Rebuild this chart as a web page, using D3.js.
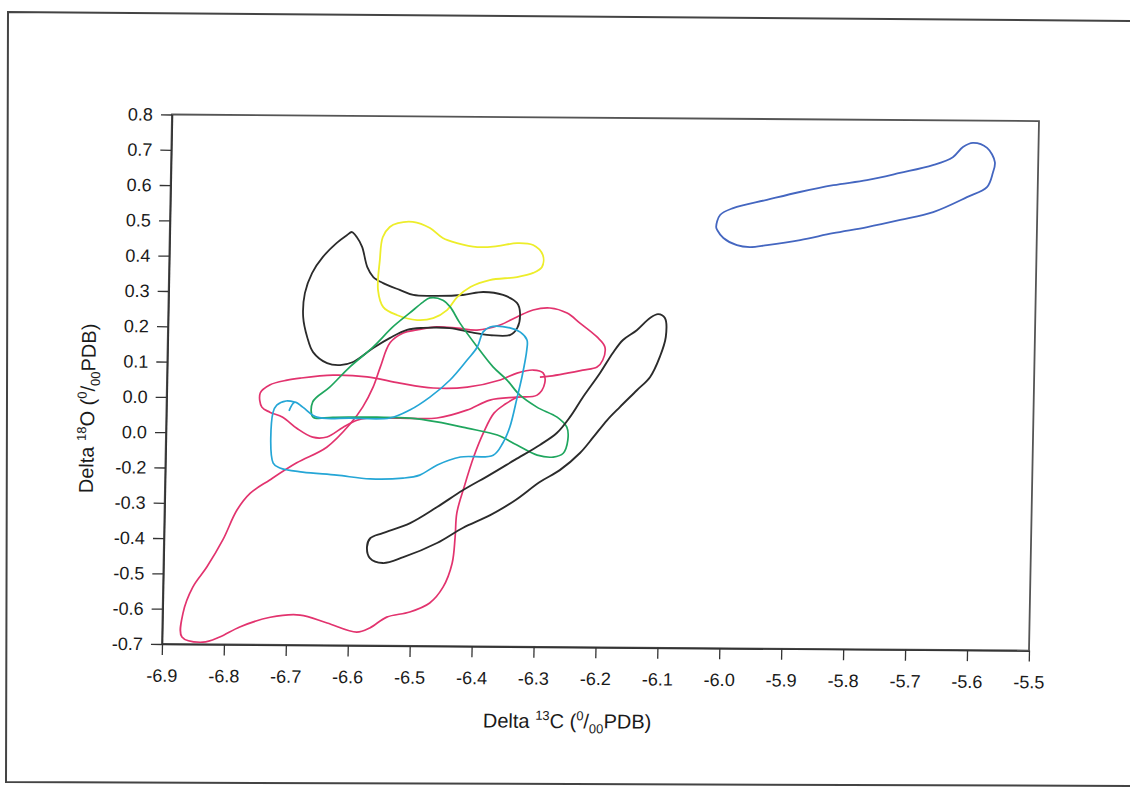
<!DOCTYPE html>
<html><head><meta charset="utf-8">
<script src="https://cdn.jsdelivr.net/npm/d3@7"></script>
<style>
html,body{margin:0;padding:0;background:#fff;}
svg{display:block;}
text{font-family:"Liberation Sans",Arial,Helvetica,sans-serif;fill:#1a1a1a;}
</style>
</head><body>
<svg id="c" width="1130" height="787"></svg>
<script>
// ---- axes / ticks ----
const xTicks = [-6.9,-6.8,-6.7,-6.6,-6.5,-6.4,-6.3,-6.2,-6.1,-6.0,-5.9,-5.8,-5.7,-5.6,-5.5];
const xTickLabels = ["-6.9","-6.8","-6.7","-6.6","-6.5","-6.4","-6.3","-6.2","-6.1","-6.0","-5.9","-5.8","-5.7","-5.6","-5.5"];
const yTicks = [0.8,0.7,0.6,0.5,0.4,0.3,0.2,0.1,0.0,-0.1,-0.2,-0.3,-0.4,-0.5,-0.6,-0.7];
const yTickLabels = ["0.8","0.7","0.6","0.5","0.4","0.3","0.2","0.1","0.0","0.0","-0.2","-0.3","-0.4","-0.5","-0.6","-0.7"];

// ---- field outlines (delta13C, delta18O) ----
const blueField = [[-6.018,0.493],[-6.012,0.527],[-5.991,0.547],[-5.937,0.571],[-5.884,0.594],[-5.830,0.614],[-5.776,0.629],[-5.723,0.650],[-5.670,0.673],[-5.638,0.696],[-5.622,0.725],[-5.606,0.737],[-5.583,0.723],[-5.570,0.683],[-5.573,0.652],[-5.582,0.612],[-5.614,0.583],[-5.668,0.540],[-5.721,0.517],[-5.774,0.496],[-5.829,0.478],[-5.882,0.458],[-5.935,0.443],[-5.963,0.437],[-5.984,0.442],[-6.006,0.462],[-6.016,0.484]];

const blackDiagonal = [[-6.109,0.245],[-6.098,0.234],[-6.096,0.180],[-6.105,0.124],[-6.120,0.067],[-6.141,0.029],[-6.168,-0.019],[-6.188,-0.056],[-6.210,-0.105],[-6.231,-0.150],[-6.263,-0.199],[-6.295,-0.233],[-6.334,-0.285],[-6.374,-0.328],[-6.418,-0.365],[-6.459,-0.408],[-6.513,-0.449],[-6.546,-0.466],[-6.567,-0.452],[-6.572,-0.421],[-6.567,-0.396],[-6.547,-0.381],[-6.503,-0.352],[-6.460,-0.306],[-6.419,-0.258],[-6.376,-0.214],[-6.336,-0.171],[-6.296,-0.128],[-6.269,-0.094],[-6.248,-0.048],[-6.228,0.008],[-6.201,0.077],[-6.181,0.134],[-6.165,0.171],[-6.143,0.199],[-6.122,0.234]];

const blackKidney = [[-6.606,0.471],[-6.598,0.457],[-6.589,0.429],[-6.580,0.372],[-6.570,0.344],[-6.554,0.327],[-6.527,0.308],[-6.505,0.294],[-6.473,0.292],[-6.425,0.295],[-6.392,0.304],[-6.360,0.296],[-6.337,0.273],[-6.332,0.245],[-6.336,0.203],[-6.347,0.183],[-6.380,0.182],[-6.412,0.190],[-6.445,0.201],[-6.488,0.201],[-6.514,0.195],[-6.541,0.172],[-6.568,0.143],[-6.600,0.103],[-6.621,0.094],[-6.642,0.099],[-6.665,0.130],[-6.675,0.173],[-6.682,0.229],[-6.680,0.297],[-6.669,0.354],[-6.652,0.400],[-6.630,0.440],[-6.614,0.462]];

const yellowField = [[-6.532,0.497],[-6.508,0.501],[-6.480,0.484],[-6.459,0.456],[-6.436,0.442],[-6.403,0.431],[-6.371,0.434],[-6.339,0.443],[-6.313,0.438],[-6.297,0.410],[-6.298,0.376],[-6.312,0.359],[-6.338,0.347],[-6.382,0.338],[-6.413,0.318],[-6.434,0.289],[-6.450,0.252],[-6.472,0.229],[-6.498,0.223],[-6.531,0.237],[-6.553,0.259],[-6.562,0.307],[-6.560,0.392],[-6.556,0.457],[-6.545,0.486]];

const greenField = [[-6.663,-0.054],[-6.664,-0.011],[-6.637,0.031],[-6.605,0.089],[-6.568,0.146],[-6.537,0.203],[-6.510,0.243],[-6.489,0.274],[-6.478,0.286],[-6.457,0.280],[-6.445,0.261],[-6.429,0.216],[-6.400,0.148],[-6.374,0.092],[-6.351,0.055],[-6.330,0.013],[-6.302,-0.021],[-6.269,-0.049],[-6.253,-0.077],[-6.251,-0.114],[-6.258,-0.151],[-6.274,-0.162],[-6.300,-0.157],[-6.333,-0.129],[-6.365,-0.101],[-6.414,-0.082],[-6.463,-0.065],[-6.507,-0.055],[-6.560,-0.053],[-6.631,-0.054]];

const cyanField = [[-6.702,-0.037],[-6.693,-0.012],[-6.680,-0.026],[-6.657,-0.054],[-6.603,-0.056],[-6.539,-0.055],[-6.507,-0.032],[-6.475,0.005],[-6.443,0.054],[-6.416,0.111],[-6.400,0.148],[-6.391,0.191],[-6.380,0.205],[-6.348,0.203],[-6.331,0.191],[-6.320,0.169],[-6.320,0.141],[-6.327,0.064],[-6.334,0.007],[-6.345,-0.078],[-6.356,-0.124],[-6.371,-0.158],[-6.424,-0.164],[-6.461,-0.187],[-6.489,-0.216],[-6.516,-0.225],[-6.569,-0.228],[-6.623,-0.218],[-6.678,-0.210],[-6.715,-0.199],[-6.726,-0.185],[-6.728,-0.043],[-6.722,-0.021],[-6.707,-0.009],[-6.693,-0.012]];

const pinkBand = [[-6.309,0.084],[-6.293,0.076],[-6.290,0.047],[-6.302,0.013],[-6.334,0.007],[-6.378,-0.002],[-6.415,-0.031],[-6.463,-0.054],[-6.523,-0.055],[-6.576,-0.056],[-6.592,-0.062],[-6.614,-0.082],[-6.640,-0.110],[-6.663,-0.111],[-6.689,-0.086],[-6.712,-0.055],[-6.733,-0.041],[-6.746,-0.027],[-6.749,0.013],[-6.734,0.036],[-6.706,0.050],[-6.685,0.056],[-6.632,0.065],[-6.577,0.061],[-6.524,0.044],[-6.470,0.031],[-6.415,0.034],[-6.362,0.055],[-6.335,0.075]];

const pinkMain = [[-6.334,0.007],[-6.353,-0.013],[-6.371,-0.039],[-6.387,-0.093],[-6.402,-0.161],[-6.417,-0.249],[-6.428,-0.323],[-6.430,-0.391],[-6.434,-0.465],[-6.448,-0.533],[-6.469,-0.578],[-6.501,-0.604],[-6.538,-0.619],[-6.565,-0.650],[-6.586,-0.662],[-6.634,-0.637],[-6.678,-0.615],[-6.726,-0.622],[-6.775,-0.650],[-6.807,-0.679],[-6.834,-0.694],[-6.868,-0.680],[-6.867,-0.612],[-6.852,-0.538],[-6.830,-0.481],[-6.805,-0.404],[-6.783,-0.319],[-6.762,-0.271],[-6.731,-0.233],[-6.688,-0.184],[-6.640,-0.139],[-6.603,-0.073],[-6.583,-0.024],[-6.567,0.032],[-6.556,0.089],[-6.541,0.158],[-6.520,0.186],[-6.498,0.195],[-6.466,0.204],[-6.433,0.201],[-6.401,0.196],[-6.364,0.211],[-6.337,0.234],[-6.311,0.254],[-6.284,0.260],[-6.256,0.246],[-6.235,0.218],[-6.207,0.179],[-6.194,0.151],[-6.197,0.114],[-6.206,0.094],[-6.229,0.085],[-6.254,0.076],[-6.282,0.067],[-6.298,0.064]];

// ---- drawing ----
const svg = d3.select("#c");

// scanned page frame
svg.append("polygon")
  .attr("points","8,12 1134,21 1134,786 6,782")
  .attr("fill","none").attr("stroke","#444").attr("stroke-width",2);

// slight skew of the scanned figure
const g = svg.append("g").attr("transform","matrix(1,0.0076,-0.0189,1,2.164,-1.307)");

const x = d3.scaleLinear().domain([-6.9,-5.5]).range([172,1039]);
const y = d3.scaleLinear().domain([-0.7,0.8]).range([644,114.5]);

// plot frame
g.append("rect")
  .attr("x",x(-6.9)).attr("y",y(0.8))
  .attr("width",x(-5.5)-x(-6.9)).attr("height",y(-0.7)-y(0.8))
  .attr("fill","none").attr("stroke","#555").attr("stroke-width",1.8);

const yAxis = g.append("g").attr("transform",`translate(${x(-6.9)},0)`)
  .call(d3.axisLeft(y).tickValues(yTicks).tickFormat((d,i)=>yTickLabels[i]).tickSize(11).tickSizeOuter(0).tickPadding(8));
const xAxis = g.append("g").attr("transform",`translate(0,${y(-0.7)})`)
  .call(d3.axisBottom(x).tickValues(xTicks).tickFormat((d,i)=>xTickLabels[i]).tickSize(11).tickSizeOuter(0).tickPadding(14));
[yAxis,xAxis].forEach(a=>{
  a.attr("font-family",null).attr("font-size",null);
  a.select(".domain").attr("stroke","#333").attr("stroke-width",1.6);
  a.selectAll(".tick line").attr("stroke","#333").attr("stroke-width",1.3);
  a.selectAll(".tick text").attr("font-size","18px").attr("fill","#1a1a1a")
    .style("font-family",'"Liberation Sans",Arial,sans-serif');
});

// axis titles
function unitTitle(sel, iso, elem){
  sel.append("tspan").text("Delta ");
  sel.append("tspan").attr("font-size","13px").attr("dy",-8).text(iso);
  sel.append("tspan").attr("dy",8).text(elem+" (");
  sel.append("tspan").attr("font-size","13px").attr("dy",-8).text("0");
  sel.append("tspan").attr("dy",8).text("/");
  sel.append("tspan").attr("font-size","13px").attr("dy",5).text("00");
  sel.append("tspan").attr("dy",-5).text("PDB)");
}
const xt = g.append("text").attr("x",(x(-6.9)+x(-5.5))/2 - 27).attr("y",725)
  .attr("text-anchor","middle").attr("font-size","20px");
unitTitle(xt,"13","C");
const yt = g.append("text").attr("transform","translate(100,409) rotate(-90)")
  .attr("text-anchor","middle").attr("font-size","20px");
unitTitle(yt,"18","O");

// outlines
const closed = d3.line().x(d=>x(d[0])).y(d=>y(d[1])).curve(d3.curveCatmullRomClosed.alpha(0.5));
const open = d3.line().x(d=>x(d[0])).y(d=>y(d[1])).curve(d3.curveCatmullRom.alpha(0.5));

const shapes = [
  {data:pinkMain, color:"#e2336e", closed:false, w:1.7},
  {data:pinkBand, color:"#e2336e", closed:true, w:1.7},
  {data:blackKidney, color:"#2b2b2b", closed:true, w:1.8},
  {data:yellowField, color:"#eded2a", closed:true, w:1.8},
  {data:greenField, color:"#1fa65e", closed:true, w:1.7},
  {data:cyanField, color:"#25a6d6", closed:false, w:1.7},
  {data:blackDiagonal, color:"#2b2b2b", closed:true, w:1.9},
  {data:blueField, color:"#4466c0", closed:true, w:1.8}
];
g.selectAll("path.field").data(shapes).join("path")
  .attr("class","field")
  .attr("d",d=>(d.closed?closed:open)(d.data))
  .attr("fill","none").attr("stroke",d=>d.color)
  .attr("stroke-width",d=>d.w).attr("stroke-linejoin","round");
</script>
</body></html>
